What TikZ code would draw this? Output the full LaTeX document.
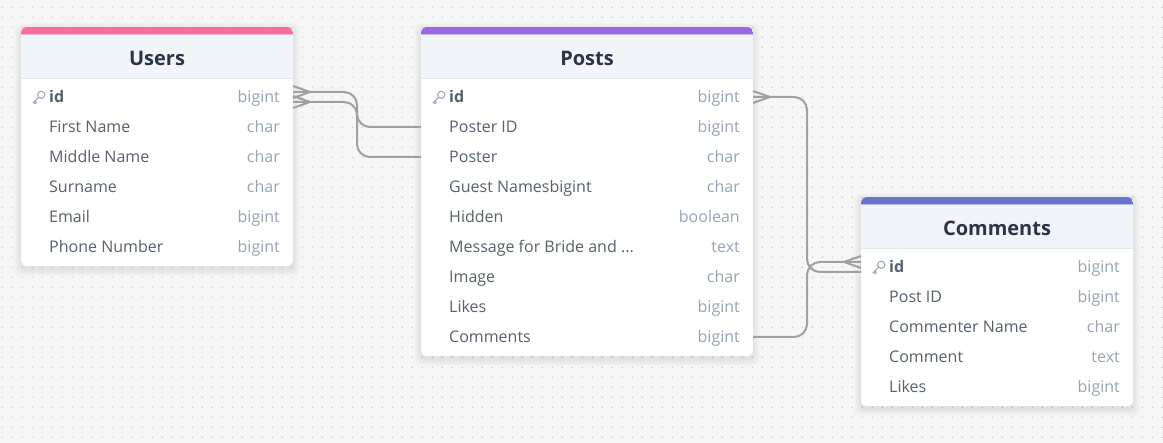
\documentclass[tikz,border=0pt]{standalone}
\usepackage{fontspec}
\setmainfont{Open Sans}
\usetikzlibrary{calc}
\definecolor{bgc}{HTML}{F6F6F6}
\definecolor{dotc}{HTML}{B4B4B4}
\definecolor{headc}{HTML}{F1F4F9}
\definecolor{headl}{HTML}{E2E8F0}
\definecolor{titlec}{HTML}{2A3547}
\definecolor{namec}{HTML}{56606E}
\definecolor{typec}{HTML}{97A3B6}
\definecolor{linec}{HTML}{A0A0A0}
\definecolor{pinkc}{HTML}{F76D9B}
\definecolor{purpc}{HTML}{9B66E0}
\definecolor{bluec}{HTML}{6674CF}
\tikzset{
  x=1pt,y=-1pt,
  conn/.style={draw=linec,line width=2pt,rounded corners=13pt},
  crowl/.style={draw=linec,line width=2pt},
  tablebody/.style={fill=white,rounded corners=6pt},
  titletext/.style={anchor=base,text=titlec,font=\fontsize{20}{24}\selectfont\bfseries,inner sep=0pt},
  rowname/.style={anchor=base west,text=namec,font=\fontsize{16}{19}\selectfont,inner sep=0pt},
  keyname/.style={rowname,font=\fontsize{16}{19}\selectfont\bfseries},
  rowtype/.style={anchor=base east,text=typec,font=\fontsize{16}{19}\selectfont,inner sep=0pt},
  keyicon/.style={draw=typec,line width=1pt},
}
\newcommand{\erTable}[7]{% name x0 y0 x1 y1 colour title
  \foreach \i in {1,...,7}{
    \fill[black,opacity=.012,rounded corners=6pt] (#2-\i,#3-\i+3) rectangle (#4+\i,#5+\i+3);
  }
  \fill[tablebody] (#2,#3) rectangle (#4,#5);
  \begin{scope}
    \clip[rounded corners=6pt] (#2,#3) rectangle (#4,#5);
    \fill[headc] (#2,#3) rectangle (#4,#3+51);
    \fill[headl] (#2,#3+51) rectangle (#4,#3+52.5);
    \fill[#6!45!headc] (#2,#3+7) rectangle (#4,#3+8);
    \fill[#6] (#2,#3) rectangle (#4,#3+7);
  \end{scope}
  \node[titletext] (#1title) at ({(#2+#4)/2},#3+38.5) {#7};
}
\newcommand{\erRow}[6]{% id xname xtype ybase name type
  \node[rowname] (#1n) at (#2,#4+1) {#5};
  \node[rowtype] (#1t) at (#3,#4+1) {#6};
}
\newcommand{\erKey}[6]{%
  \node[keyname] (#1n) at (#2,#4+1) {#5};
  \node[rowtype] (#1t) at (#3,#4+1) {#6};
  \draw[keyicon] (#2-7.8,#4-7.2) circle (3.6);
  \draw[keyicon] (#2-10.4,#4-4.7) -- (#2-15.8,#4+0.6) -- (#2-13.6,#4+1.6) -- (#2-12.6,#4+0.5) (#2-14,#4-1.2) -- (#2-12.4,#4+0.4);
}
\newcommand{\crowR}[1]{% opens towards the table on the left of the apex
  \draw[crowl] ($(#1)+(0,-6)$) -- ($(#1)+(17,0)$) -- ($(#1)+(0,6)$);
}
\newcommand{\crowL}[1]{%
  \draw[crowl] ($(#1)+(0,-6)$) -- ($(#1)+(-17,0)$) -- ($(#1)+(0,6)$);
}
\begin{document}
\begin{tikzpicture}
\useasboundingbox (0,0) rectangle (1163,443);
\fill[bgc] (0,0) rectangle (1163,443);
\foreach \i in {0,...,116}{
  \foreach \j in {0,...,43}{
    \fill[dotc] (2.2+10*\i,7.2+10*\j) circle (.6);
  }
}
% Users
\erTable{users}{21}{27}{293}{266}{pinkc}{Users}
\erKey{uid}{49}{280}{102}{id}{bigint}
\erRow{ufirst}{49}{280}{132}{First Name}{char}
\erRow{umid}{49}{280}{162}{Middle Name}{char}
\erRow{usur}{49}{280}{192}{Surname}{char}
\erRow{uemail}{49}{280}{222}{Email}{bigint}
\erRow{uphone}{49}{280}{252}{Phone Number}{bigint}
% Posts
\erTable{posts}{421}{27}{753}{356}{purpc}{Posts}
\erKey{pid}{449}{740}{102}{id}{bigint}
\erRow{pposterid}{449}{740}{132}{Poster ID}{bigint}
\erRow{pposter}{449}{740}{162}{Poster}{char}
\erRow{pguest}{449}{740}{192}{Guest Namesbigint}{char}
\erRow{phidden}{449}{740}{222}{Hidden}{boolean}
\erRow{pmsg}{449}{740}{252}{Message for Bride and ...}{text}
\erRow{pimage}{449}{740}{282}{Image}{char}
\erRow{plikes}{449}{740}{312}{Likes}{bigint}
\erRow{pcomments}{449}{740}{342}{Comments}{bigint}
% Comments
\erTable{comments}{861}{197}{1133}{406}{bluec}{Comments}
\erKey{cid}{889}{1120}{272}{id}{bigint}
\erRow{cpost}{889}{1120}{302}{Post ID}{bigint}
\erRow{cname}{889}{1120}{332}{Commenter Name}{char}
\erRow{ccomment}{889}{1120}{362}{Comment}{text}
\erRow{clikes}{889}{1120}{392}{Likes}{bigint}
% connector anchors
\coordinate (uidA) at (293,92);
\coordinate (uidB) at (293,102);
\coordinate (pA) at (421,127);
\coordinate (pB) at (421,157);
\coordinate (pidR) at (753,97);
\coordinate (pcomR) at (753,337);
\coordinate (cidA) at (861,272);
\coordinate (cidB) at (861,262);
\coordinate (xleft) at (357,0);
\coordinate (xright) at (807,0);
% connectors
\draw[conn] (uidA) -- (uidA -| xleft) -- (pA -| xleft) -- (pA);
\draw[conn] (uidB) -- (uidB -| xleft) -- (pB -| xleft) -- (pB);
\draw[conn] (pidR) -- (pidR -| xright) -- (cidA -| xright) -- (cidA);
\draw[conn] (pcomR) -- (pcomR -| xright) -- (cidB -| xright) -- (cidB);
\crowR{uidA}
\crowR{uidB}
\crowR{pidR}
\crowL{cidB}
\end{tikzpicture}
\end{document}
